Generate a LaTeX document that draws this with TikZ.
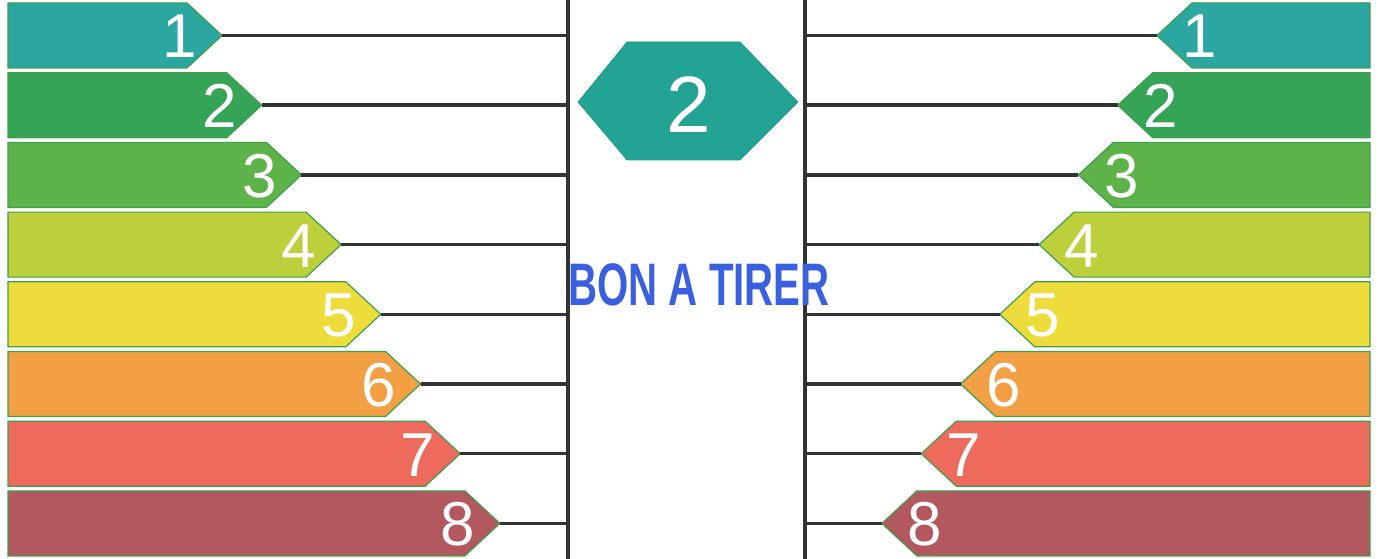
\documentclass[tikz,border=0pt]{standalone}
\usepackage{fontspec}
\setmainfont{Liberation Sans}
\definecolor{c1}{HTML}{2BA6A0}
\definecolor{c2}{HTML}{36A457}
\definecolor{c3}{HTML}{5DB34A}
\definecolor{c4}{HTML}{BDD03B}
\definecolor{c5}{HTML}{EEDC3C}
\definecolor{c6}{HTML}{F2A043}
\definecolor{c7}{HTML}{EE6A5D}
\definecolor{c8}{HTML}{B3585F}
\definecolor{hexc}{HTML}{22A394}
\definecolor{edge}{HTML}{3FA04A}
\definecolor{linec}{HTML}{333333}
\definecolor{stamp}{HTML}{3A60E0}
\tikzset{
  bar/.style={draw=edge,line width=1.2pt,line join=miter},
  num/.style={text=white,font=\fontsize{62}{62}\selectfont,inner sep=0pt,anchor=base},
  hline/.style={draw=linec,line width=3.4pt},
  vline/.style={draw=linec,line width=3.4pt},
}
\begin{document}
\begin{tikzpicture}[x=1pt,y=-1pt]
\useasboundingbox (0,0) rectangle (1379,559);
\fill[white] (0,0) rectangle (1379,559);
\coordinate (VLtop) at (568,0);
\coordinate (VLbot) at (568,559);
\coordinate (VRtop) at (805,0);
\coordinate (VRbot) at (805,559);
\draw[vline] (VLtop) -- (VLbot);
\draw[vline] (VRtop) -- (VRbot);
\foreach \i/\c in {1/c1,2/c2,3/c3,4/c4,5/c5,6/c6,7/c7,8/c8}{
  \pgfmathsetmacro\tp{3+69.7*(\i-1)}
  \pgfmathsetmacro\bt{\tp+65}
  \pgfmathsetmacro\md{\tp+32.5}
  \pgfmathsetmacro\lt{222+39.7*(\i-1)}
  \pgfmathsetmacro\rt{1157-39.3*(\i-1)}
  \filldraw[bar,fill=\c] (8,\tp) -- (\lt-35,\tp) -- (\lt,\md) -- (\lt-35,\bt) -- (8,\bt) -- cycle;
  \filldraw[bar,fill=\c] (1370,\tp) -- (\rt+35,\tp) -- (\rt,\md) -- (\rt+35,\bt) -- (1370,\bt) -- cycle;
  \coordinate (L\i) at (\lt,\md);
  \coordinate (R\i) at (\rt,\md);
  \coordinate (VL\i) at (568,\md);
  \coordinate (VR\i) at (805,\md);
  \draw[hline] (L\i) -- (VL\i);
  \draw[hline] (VR\i) -- (R\i);
  \node[num] (nl\i) at (\lt-42,\md+22.5) {\i};
  \node[num] (nr\i) at (\rt+43,\md+22.5) {\i};
}
\filldraw[fill=hexc,draw=hexc!90!black,line width=0.6pt] (578,102) -- (627,42) -- (740,42) -- (798,102) -- (740,160) -- (627,160) -- cycle;
\node[text=white,font=\fontsize{80}{80}\selectfont,inner sep=0pt,anchor=base] (hexnum) at (689,133) {2};
\node[text=stamp,font=\bfseries\fontsize{60}{60}\selectfont,inner sep=0pt,anchor=base,xscale=0.67] (bat) at (699,305) {BON A TIRER};
\end{tikzpicture}
\end{document}
